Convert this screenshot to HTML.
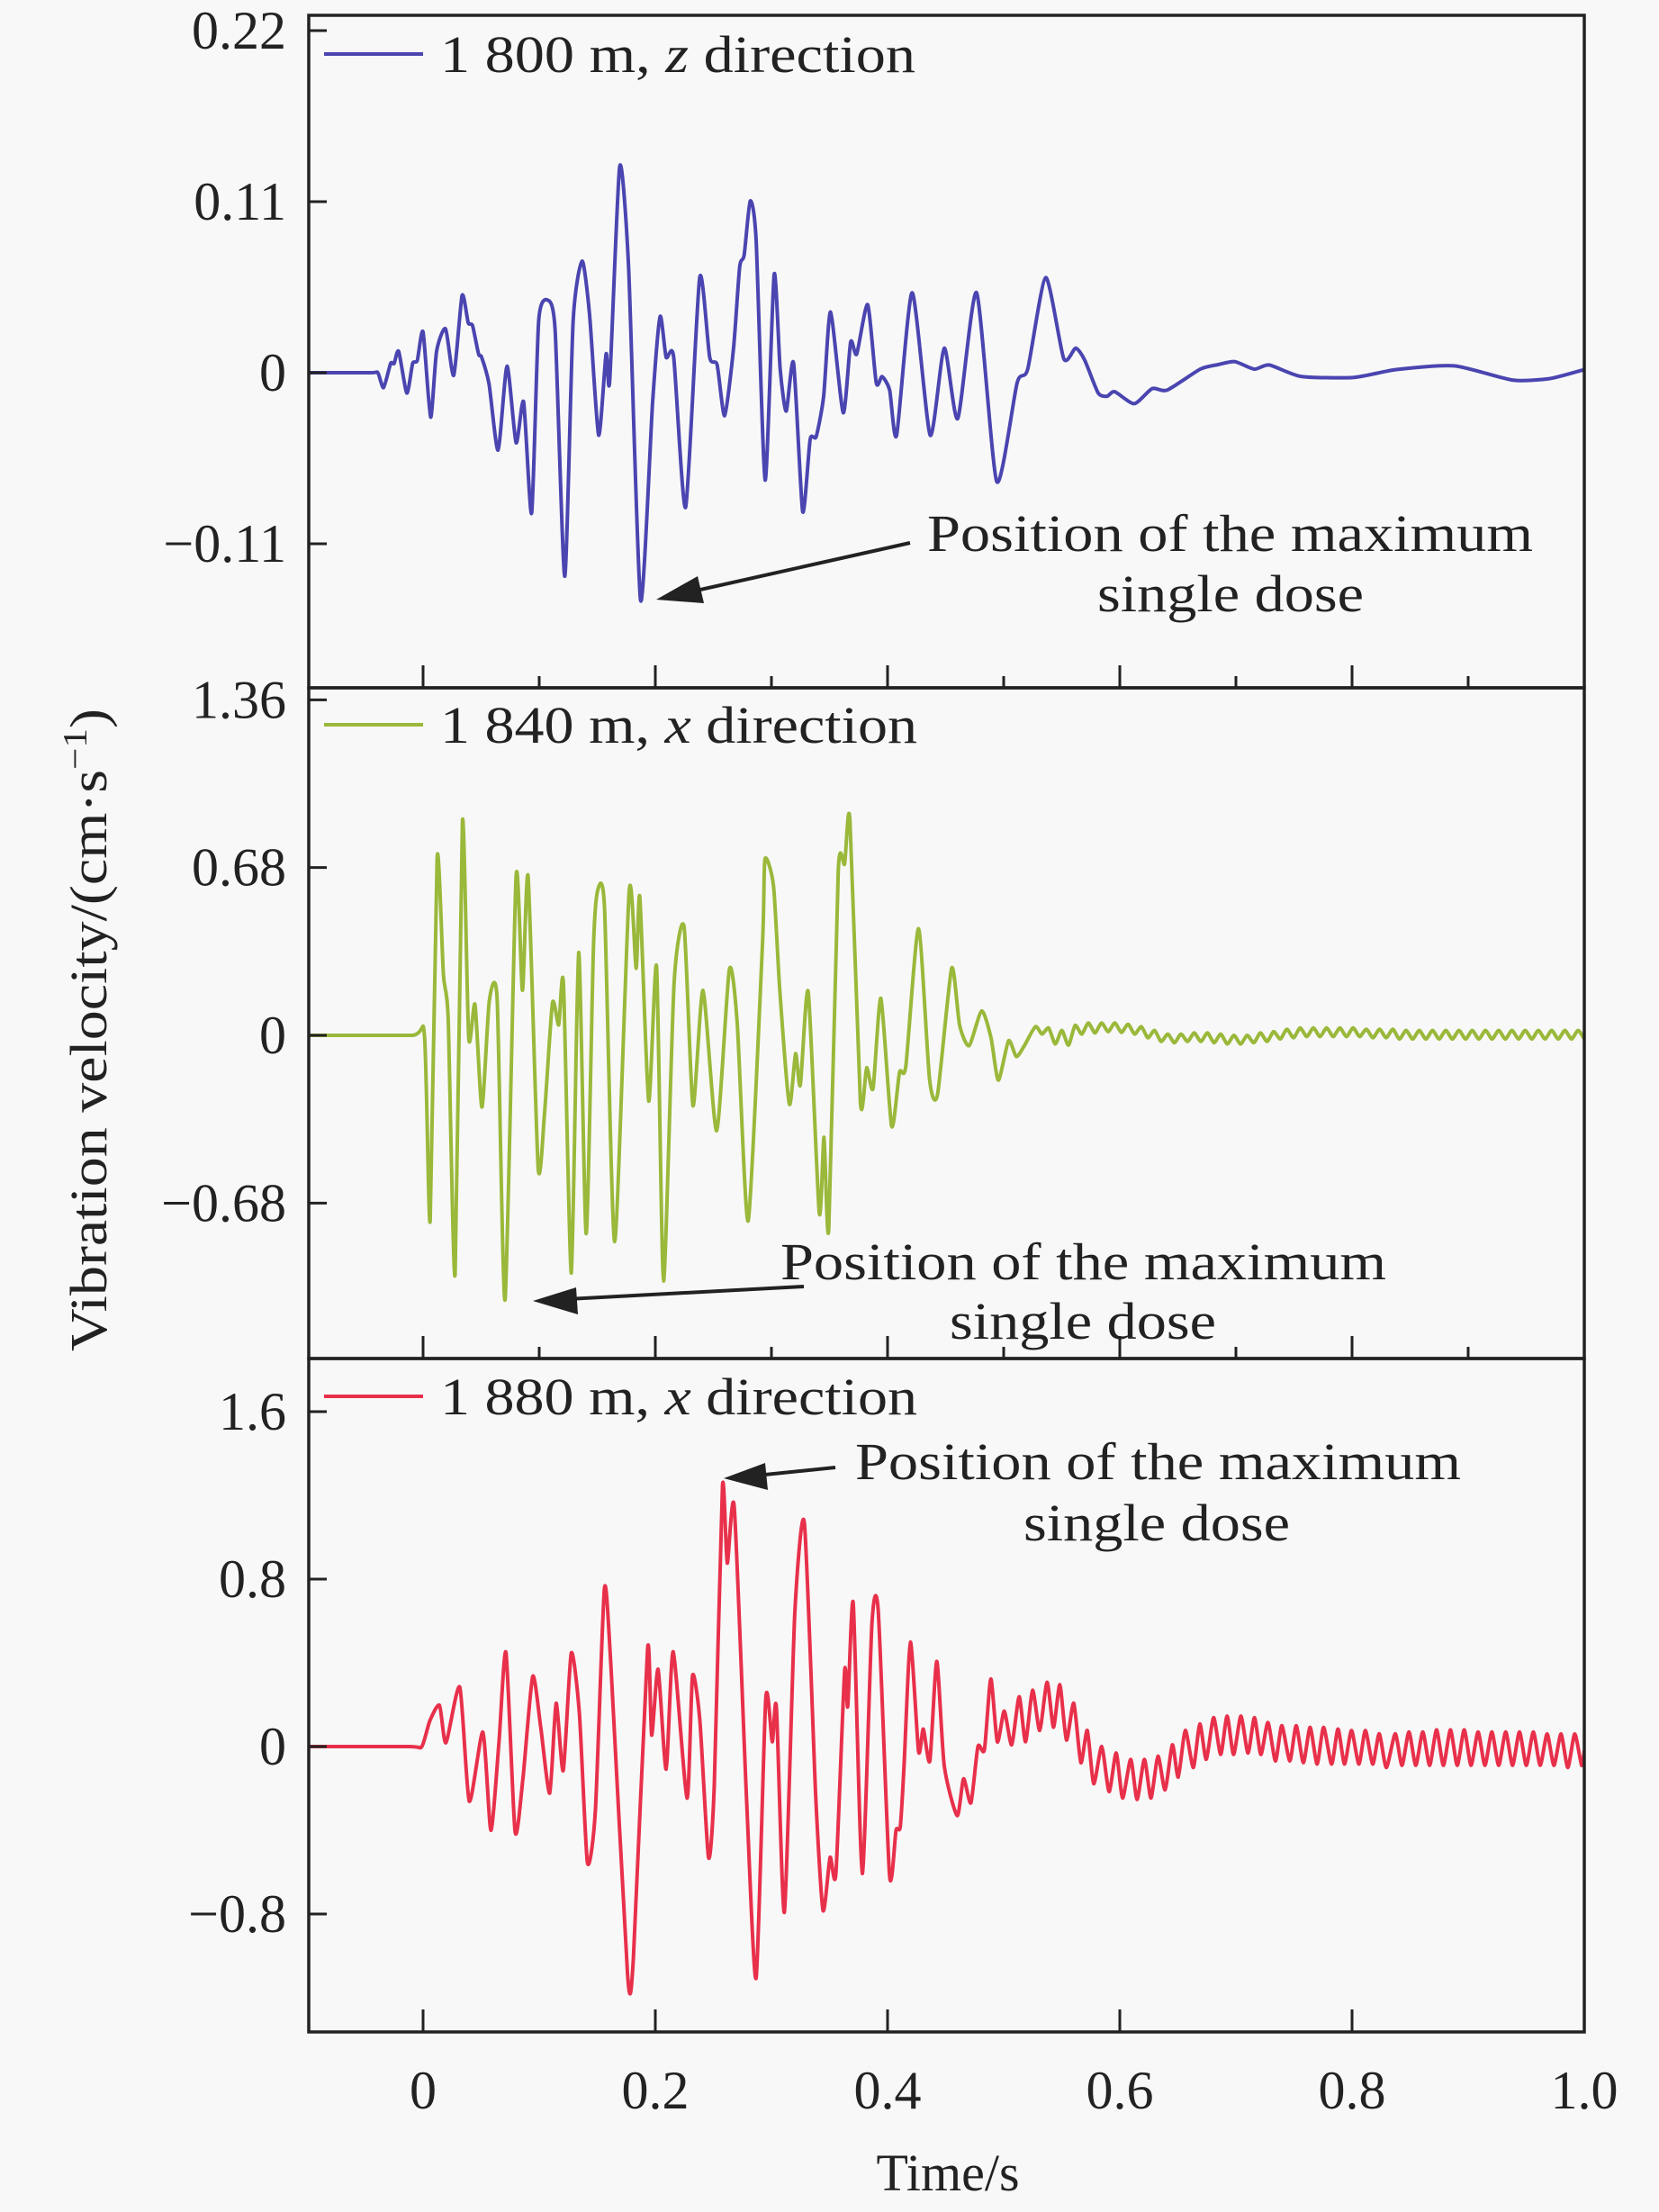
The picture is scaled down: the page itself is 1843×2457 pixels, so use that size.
<!DOCTYPE html>
<html><head><meta charset="utf-8"><style>
html,body{margin:0;padding:0;background:#f8f8f8;}
svg{display:block;}
svg text{font-family:"Liberation Serif","Times New Roman",serif;}
</style></head><body>
<svg id="chart" width="1843" height="2457" viewBox="0 0 1843 2457" xmlns="http://www.w3.org/2000/svg" font-family="Liberation Serif, serif">
<defs>
<clipPath id="c1"><rect x="343" y="17" width="1417" height="747"/></clipPath>
<clipPath id="c2"><rect x="343" y="764" width="1417" height="745"/></clipPath>
<clipPath id="c3"><rect x="343" y="1509" width="1417" height="748"/></clipPath>
</defs>
<rect x="0" y="0" width="1843" height="2457" fill="#f8f8f8"/>
<g id="series"></g>
<g id="axes"></g>
<text font-family="Liberation Serif, serif" transform="translate(118,1144) rotate(-90)" text-anchor="middle" font-size="58" fill="#222" textLength="714" lengthAdjust="spacingAndGlyphs">Vibration velocity/(cm·s<tspan dy="-22" font-size="38">−1</tspan><tspan dy="22">)</tspan></text>
<text font-family="Liberation Serif, serif" x="1053" y="2433" text-anchor="middle" font-size="58" fill="#222">Time/s</text>

<g>
<line x1="360" y1="60" x2="470" y2="60" stroke="#4a45b0" stroke-width="4"/>
<text x="489" y="80" font-family="Liberation Serif, serif" font-size="58" fill="#222" textLength="528" lengthAdjust="spacingAndGlyphs">1 800 m, <tspan font-style="italic">z</tspan> direction</text></g>
<g>
<line x1="360" y1="805" x2="470" y2="805" stroke="#9ab83a" stroke-width="4"/>
<text x="489" y="825" font-family="Liberation Serif, serif" font-size="58" fill="#222" textLength="530" lengthAdjust="spacingAndGlyphs">1 840 m, <tspan font-style="italic">x</tspan> direction</text></g>
<g>
<line x1="360" y1="1551" x2="470" y2="1551" stroke="#e8304a" stroke-width="4"/>
<text x="489" y="1571" font-family="Liberation Serif, serif" font-size="58" fill="#222" textLength="530" lengthAdjust="spacingAndGlyphs">1 880 m, <tspan font-style="italic">x</tspan> direction</text></g>

<g>
<line x1="1011" y1="603" x2="760" y2="659" stroke="#222" stroke-width="4"/>
<path d="M729,666 L775,640 L782,670 z" fill="#222"/>
<text x="1030" y="612" font-family="Liberation Serif, serif" font-size="58" fill="#222" textLength="673" lengthAdjust="spacingAndGlyphs">Position of the maximum</text>
<text x="1367" y="679" font-family="Liberation Serif, serif" font-size="58" fill="#222" text-anchor="middle" textLength="296" lengthAdjust="spacingAndGlyphs">single dose</text></g>
<g>
<line x1="893" y1="1429" x2="630" y2="1443" stroke="#222" stroke-width="4"/>
<path d="M592,1445 L640,1430 L642,1460 z" fill="#222"/>
<text x="867" y="1421" font-family="Liberation Serif, serif" font-size="58" fill="#222" textLength="673" lengthAdjust="spacingAndGlyphs">Position of the maximum</text>
<text x="1203" y="1487" font-family="Liberation Serif, serif" font-size="58" fill="#222" text-anchor="middle" textLength="296" lengthAdjust="spacingAndGlyphs">single dose</text></g>
<g>
<line x1="928" y1="1630" x2="840" y2="1639" stroke="#222" stroke-width="4"/>
<path d="M804,1642 L850,1625 L853,1655 z" fill="#222"/>
<text x="950" y="1643" font-family="Liberation Serif, serif" font-size="58" fill="#222" textLength="673" lengthAdjust="spacingAndGlyphs">Position of the maximum</text>
<text x="1285" y="1711" font-family="Liberation Serif, serif" font-size="58" fill="#222" text-anchor="middle" textLength="296" lengthAdjust="spacingAndGlyphs">single dose</text></g>
</svg>
<script>
const t1=[-0.1,-0.045,-0.039,-0.034,-0.028,-0.025,-0.021,-0.014,-0.009,-0.005,0.0,0.0065,0.0116,0.0194,0.0264,0.0336,0.0388,0.0426,0.0478,0.0504,0.0568,0.0646,0.0723,0.0801,0.0866,0.0935,0.0995,0.1072,0.1137,0.1220,0.1292,0.1370,0.1434,0.1512,0.1576,0.1607,0.1693,0.1770,0.1873,0.1977,0.2041,0.2093,0.2158,0.2261,0.2382,0.2468,0.2532,0.2597,0.2674,0.2726,0.2765,0.2817,0.2868,0.2946,0.3023,0.3075,0.3127,0.3191,0.3269,0.3333,0.3385,0.3450,0.3509,0.3618,0.3682,0.3734,0.3829,0.3902,0.3953,0.4018,0.4078,0.4212,0.4367,0.4488,0.4605,0.4767,0.4940,0.5116,0.5207,0.5362,0.5517,0.5620,0.5698,0.5814,0.5891,0.5956,0.6124,0.6279,0.6408,0.6693,0.6848,0.6990,0.7158,0.7287,0.756,0.8016,0.838,0.888,0.938,0.970,1.0];
const v1=[0,0,0.000,-0.0096,0.0059,0.0059,0.0137,-0.0131,0.0059,0.0079,0.0262,-0.0286,0.0137,0.0282,-0.0017,0.0496,0.0322,0.0303,0.0120,0.0100,-0.0073,-0.0498,0.0042,-0.0450,-0.0189,-0.0903,0.0332,0.0467,0.0274,-0.1309,0.0332,0.0718,0.0371,-0.0401,0.0120,-0.0054,0.1326,0.0680,-0.1463,-0.0189,0.0361,0.0100,0.0100,-0.0865,0.0612,0.0100,0.0052,-0.0276,0.0158,0.0679,0.0757,0.1104,0.0853,-0.0691,0.0631,0.0023,-0.0247,0.0062,-0.0893,-0.0430,-0.0411,-0.0151,0.0390,-0.0257,0.0197,0.0120,0.0438,-0.0064,-0.0025,-0.0112,-0.0402,0.0515,-0.0402,0.0158,-0.0295,0.0515,-0.0700,-0.0064,0.0023,0.0612,0.0091,0.0158,0.0081,-0.0131,-0.0151,-0.0122,-0.0199,-0.0102,-0.0112,0.0023,0.0052,0.0071,0.0023,0.005,-0.0024,-0.003,0.002,0.0044,-0.0047,-0.0038,0.002];

const t2=[-0.1,-0.01,0.0012,0.0061,0.0121,0.0175,0.0216,0.0276,0.0339,0.0393,0.0447,0.0507,0.0570,0.0638,0.0706,0.0801,0.0856,0.0905,0.0991,0.1046,0.1114,0.1168,0.1209,0.1277,0.1340,0.1405,0.1467,0.1503,0.1563,0.1650,0.1775,0.1835,0.1867,0.1943,0.2011,0.2071,0.2161,0.2248,0.2324,0.2411,0.2528,0.2637,0.2705,0.2800,0.2923,0.2944,0.3018,0.3072,0.3154,0.3208,0.3249,0.3317,0.3412,0.3453,0.3494,0.3575,0.3630,0.3676,0.3766,0.3820,0.3875,0.3943,0.4035,0.4103,0.4157,0.4267,0.4361,0.4430,0.4552,0.4620,0.4702,0.4810,0.4891,0.4954,0.5042,0.5109,0.5178,0.5273,0.5330,0.5387,0.5444,0.5501,0.5558,0.5615,0.5672,0.5729,0.5786,0.5843,0.5900,0.5957,0.6014,0.6071,0.6128,0.6185,0.6242,0.6299,0.6356,0.6413,0.6470,0.6527,0.6584,0.6641,0.6698,0.6755,0.6812,0.6869,0.6926,0.6983,0.7040,0.7097,0.7154,0.7211,0.7268,0.7325,0.7382,0.7439,0.7496,0.7553,0.7610,0.7667,0.7724,0.7781,0.7838,0.7895,0.7952,0.8009,0.8066,0.8123,0.8180,0.8237,0.8294,0.8351,0.8408,0.8465,0.8522,0.8579,0.8636,0.8693,0.8750,0.8807,0.8864,0.8921,0.8978,0.9035,0.9092,0.9149,0.9206,0.9263,0.9320,0.9377,0.9434,0.9491,0.9548,0.9605,0.9662,0.9719,0.9776,0.9833,0.9890,0.9947,1.0];
const v2=[0,0,0,-0.752,0.720,0.246,0.067,-0.970,0.868,-0.010,0.125,-0.291,0.138,0.144,-1.072,0.643,0.182,0.643,-0.535,-0.317,0.131,0.042,0.208,-0.964,0.336,-0.804,0.349,0.586,0.515,-0.836,0.586,0.272,0.560,-0.266,0.278,-0.996,0.208,0.439,-0.285,0.182,-0.387,0.266,0.054,-0.752,0.374,0.714,0.605,0.182,-0.278,-0.074,-0.202,0.176,-0.720,-0.413,-0.784,0.663,0.695,0.874,-0.272,-0.131,-0.215,0.150,-0.368,-0.150,-0.125,0.432,-0.176,-0.240,0.272,0.042,-0.042,0.099,-0.010,-0.182,-0.022,-0.086,-0.042,0.035,0.005,0.030,-0.035,0.02,-0.04,0.040,0.005,0.05,0.01,0.05,0.015,0.05,0.012,0.045,0.005,0.035,-0.01,0.02,-0.025,0.005,-0.03,0.005,-0.025,0.01,-0.025,0.01,-0.03,0.005,-0.035,0.0,-0.035,0.0,-0.03,0.01,-0.025,0.015,-0.015,0.025,-0.01,0.03,-0.005,0.03,-0.005,0.03,-0.005,0.03,-0.005,0.03,-0.005,0.025,-0.01,0.025,-0.01,0.025,-0.015,0.02,-0.015,0.02,-0.015,0.02,-0.015,0.02,-0.015,0.02,-0.015,0.02,-0.015,0.02,-0.015,0.02,-0.015,0.02,-0.015,0.02,-0.015,0.02,-0.015,0.02,-0.015,0.02,-0.015,0.02,-0.015,0.02,0.0];

const t3=[-0.1,-0.012,-0.0011,0.0058,0.0141,0.0197,0.0316,0.0398,0.0515,0.0584,0.0653,0.0714,0.0792,0.0861,0.0944,0.1013,0.1091,0.1146,0.1207,0.1276,0.1346,0.1415,0.1484,0.1561,0.1617,0.1761,0.1811,0.1933,0.1968,0.2024,0.2093,0.2154,0.2273,0.2320,0.2384,0.2458,0.2508,0.2578,0.2619,0.2680,0.2785,0.2868,0.2951,0.3007,0.3043,0.3112,0.3201,0.3284,0.3381,0.3444,0.3505,0.3555,0.3630,0.3657,0.3705,0.3782,0.3865,0.3920,0.4017,0.4073,0.4109,0.4142,0.4197,0.4267,0.4308,0.4364,0.4424,0.4488,0.4599,0.4654,0.4718,0.4778,0.4834,0.4889,0.4945,0.5005,0.5069,0.5133,0.5188,0.5249,0.5310,0.5374,0.5429,0.5484,0.5540,0.5604,0.5664,0.5720,0.5775,0.5844,0.5908,0.5969,0.6024,0.6094,0.6149,0.6212,0.6268,0.6329,0.6390,0.6453,0.6503,0.6564,0.6633,0.6689,0.6744,0.6808,0.6869,0.6924,0.6980,0.7043,0.7104,0.7160,0.7215,0.7276,0.7340,0.7395,0.7464,0.7519,0.7581,0.7639,0.7699,0.7755,0.7824,0.7879,0.7935,0.7995,0.8059,0.8115,0.8178,0.8234,0.8295,0.8372,0.8430,0.8490,0.8549,0.8609,0.8668,0.8728,0.8787,0.8847,0.8906,0.8966,0.9025,0.9085,0.9144,0.9204,0.9263,0.9323,0.9382,0.9442,0.9501,0.9561,0.9620,0.9680,0.9739,0.9799,0.9858,0.9918,0.9977,1.0];
const v3=[0,0,0,0.123,0.197,0.018,0.284,-0.261,0.069,-0.400,0.015,0.449,-0.407,-0.146,0.335,0.092,-0.223,0.207,-0.115,0.446,0.161,-0.553,-0.307,0.753,0.392,-1.091,-1.014,0.468,0.054,0.369,-0.108,0.453,-0.246,0.338,0.123,-0.530,-0.184,1.244,0.876,1.144,-0.246,-1.106,0.230,0.023,0.187,-0.791,0.633,1.068,-0.231,-0.783,-0.530,-0.607,0.361,0.192,0.684,-0.607,0.584,0.645,-0.615,-0.400,-0.384,-0.092,0.499,-0.023,0.084,-0.069,0.407,-0.092,-0.330,-0.154,-0.269,0,-0.015,0.323,0.023,0.169,0.008,0.238,0.023,0.269,0.077,0.307,0.092,0.295,0.031,0.207,-0.077,0.077,-0.177,0.000,-0.215,-0.031,-0.246,-0.061,-0.253,-0.061,-0.246,-0.046,-0.207,0.008,-0.146,0.077,-0.100,0.108,-0.061,0.138,-0.038,0.146,-0.038,0.146,-0.031,0.138,-0.038,0.115,-0.069,0.100,-0.069,0.100,-0.077,0.092,-0.084,0.092,-0.084,0.084,-0.084,0.077,-0.084,0.077,-0.084,0.061,-0.100,0.061,-0.09,0.07,-0.09,0.07,-0.09,0.08,-0.09,0.08,-0.09,0.08,-0.09,0.07,-0.09,0.07,-0.09,0.07,-0.09,0.07,-0.09,0.07,-0.09,0.06,-0.09,0.06,-0.10,0.06,-0.09,-0.02];

const yTicks1=[0.22,0.11,0,-0.11], yLabels1=["0.22","0.11","0","\u22120.11"];
const yTicks2=[1.36,0.68,0,-0.68], yLabels2=["1.36","0.68","0","\u22120.68"];
const yTicks3=[1.6,0.8,0,-0.8], yLabels3=["1.6","0.8","0","\u22120.8"];
const xMajor=[0,0.2,0.4,0.6,0.8,1.0], xLabels=["0","0.2","0.4","0.6","0.8","1.0"];
const xMinor=[0.1,0.3,0.5,0.7,0.9];

const NS="http://www.w3.org/2000/svg";
const L=343,R=1760;
const xS=t=>470+t*1290;
const panels=[
 {top:17,bot:764,zero:414,k:1727,t:t1,v:v1,col:"#4a45b0",clip:"c1",ticks:yTicks1,labels:yLabels1,minor:true,name:"series-1800m-z"},
 {top:764,bot:1509,zero:1150,k:274,t:t2,v:v2,col:"#9ab83a",clip:"c2",ticks:yTicks2,labels:yLabels2,minor:true,name:"series-1840m-x"},
 {top:1509,bot:2257,zero:1940,k:232.5,t:t3,v:v3,col:"#e8304a",clip:"c3",ticks:yTicks3,labels:yLabels3,minor:false,name:"series-1880m-x"}
];
const sg=document.getElementById('series'), ag=document.getElementById('axes');
function mk(tag,attrs,parent){const e=document.createElementNS(NS,tag);for(const k in attrs)e.setAttribute(k,attrs[k]);parent.appendChild(e);return e;}
function smooth(pts){let d="M"+pts[0][0].toFixed(1)+","+pts[0][1].toFixed(1);
 for(let i=0;i<pts.length-1;i++){const p0=pts[i-1]||pts[i],p1=pts[i],p2=pts[i+1],p3=pts[i+2]||p2;
  const c1=[p1[0]+(p2[0]-p0[0])/9,p1[1]+(p2[1]-p0[1])/9],c2=[p2[0]-(p3[0]-p1[0])/9,p2[1]-(p3[1]-p1[1])/9];
  d+=" C"+c1[0].toFixed(1)+","+c1[1].toFixed(1)+" "+c2[0].toFixed(1)+","+c2[1].toFixed(1)+" "+p2[0].toFixed(1)+","+p2[1].toFixed(1);}
 return d;}
const FF="Liberation Serif, serif";
panels.forEach((p,pi)=>{
 const yS=v=>p.zero-v*p.k;
 const pts=p.t.map((t,i)=>[xS(t),yS(p.v[i])]);
 const path=mk('path',{d:smooth(pts),fill:"none",stroke:p.col,"stroke-width":4,"stroke-linejoin":"round","clip-path":"url(#"+p.clip+")"},sg);
 
 
 p.ticks.forEach((v,i)=>{
  const y=yS(v);
  const tk=mk('line',{x1:L,x2:L+20,y1:y,y2:y,stroke:"#222","stroke-width":3},ag);
  
  
  const lb=mk('text',{x:318,y:y+20,"text-anchor":"end","font-size":60,"font-family":FF,fill:"#222"},ag);
  lb.textContent=p.labels[i];
  
  
 });
 xMajor.forEach((t,i)=>{
  const tk=mk('line',{x1:xS(t),x2:xS(t),y1:p.bot,y2:p.bot-25,stroke:"#222","stroke-width":3},ag);
  
  
 });
 if(p.minor) xMinor.forEach(t=>{
  const tk=mk('line',{x1:xS(t),x2:xS(t),y1:p.bot,y2:p.bot-13,stroke:"#222","stroke-width":3},ag);
  
  
 });
 const fr=mk('rect',{x:L,y:p.top,width:R-L,height:p.bot-p.top,fill:"none",stroke:"#222","stroke-width":3.5},ag);
 
 
});
xMajor.forEach((t,i)=>{
 const lb=mk('text',{x:xS(t),y:2342,"text-anchor":"middle","font-size":60,"font-family":FF,fill:"#222"},ag);
 lb.textContent=xLabels[i];
 
 
});
</script>
</body></html>
